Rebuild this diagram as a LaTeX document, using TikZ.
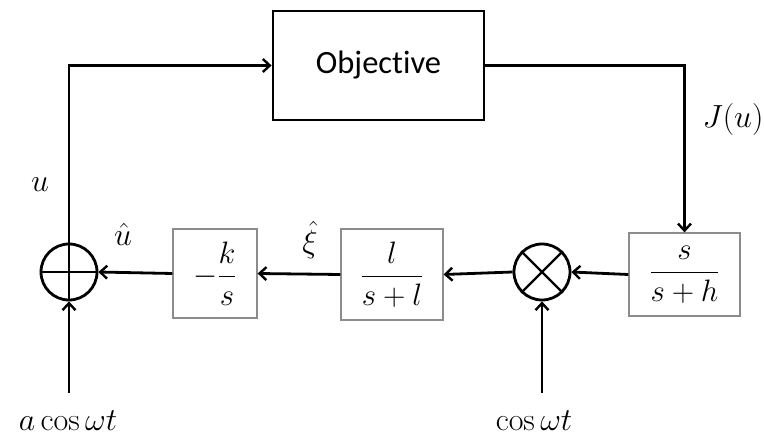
\documentclass[tikz,border=0pt]{standalone}
\usepackage{fix-cm}
\usepackage{amsmath}
\usepackage{fontspec}
\newfontfamily\objfont[Ligatures={NoCommon}]{Carlito}
\usetikzlibrary{arrows.meta}
\begin{document}
\begin{tikzpicture}[x=1pt,y=-1pt,
  mathfont/.style={font=\fontsize{32}{38}\selectfont},
  fracfont/.style={font=\fontsize{31}{36}\selectfont},
  bigbox/.style={draw=black,line width=2.8pt,inner sep=0pt},
  tfbox/.style={draw=black!45,line width=1.3pt,inner sep=0pt,fracfont},
  junction/.style={draw=black,circle,line width=2.8pt,minimum size=56pt,inner sep=0pt},
  wire/.style={line width=2.8pt,-{Straight Barb[length=7pt,width=13pt,line width=2.4pt]}},
  lbl/.style={mathfont,inner sep=0pt}]
\useasboundingbox (0,0) rectangle (764,438);
\node[bigbox,minimum width=211pt,minimum height=109pt,font=\objfont\fontsize{32.5}{38}\selectfont] (obj) at (378.5,65.5) {Objective};
\node[junction] (sum) at (69,272) {};
\node[tfbox,minimum width=84pt,minimum height=89pt] (int) at (215,273.5) {$-\dfrac{k}{s}$};
\node[tfbox,minimum width=102pt,minimum height=91pt] (lpf) at (392,274.5) {$\dfrac{l}{s+l}$};
\node[junction] (mult) at (542,272) {};
\node[tfbox,minimum width=111pt,minimum height=83pt] (hpf) at (684.5,274.5) {$\dfrac{s}{s+h}$};
\coordinate (in1) at (69,393);
\coordinate (in2) at (542,393);
% junction symbols
\draw[line width=2.4pt] (sum.west) -- (sum.east) (sum.north) -- (sum.south);
\draw[line width=2.4pt] (mult.north west) -- (mult.south east) (mult.north east) -- (mult.south west);
% connectors
\draw[wire] (sum.north) |- (obj.west);
\draw[wire] (obj.east) -| (hpf.north);
\draw[wire] (hpf.west) -- (mult.east);
\draw[wire] (mult.west) -- (lpf.east);
\draw[wire] (lpf.west) -- (int.east);
\draw[wire] (int.west) -- (sum.east);
\draw[wire] (in1) -- (sum.south);
\draw[wire] (in2) -- (mult.south);
% labels
\node[lbl] (lu) at (40,185) {$u$};
\node[lbl] (luhat) at (123,234) {$\hat{u}$};
\node[lbl] (lxi) at (310,240) {$\hat{\xi}$};
\node[lbl] (lJ) at (733,120) {$J(u)$};
\node[lbl] (la) at (68,421) {$a\cos\omega t$};
\node[lbl] (lc) at (534,421) {$\cos\omega t$};
\end{tikzpicture}
\end{document}
